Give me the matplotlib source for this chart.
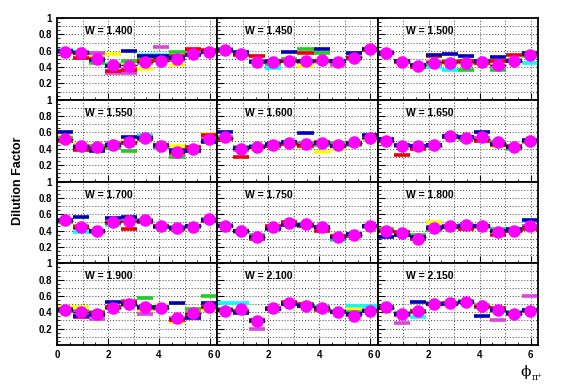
import numpy as np
import matplotlib
matplotlib.use("Agg")
import matplotlib.pyplot as plt
from matplotlib.ticker import MultipleLocator, FixedLocator

plt.rcParams['font.family'] = ['Liberation Sans', 'DejaVu Sans']

W_labels = ["1.400", "1.450", "1.500", "1.550", "1.600", "1.650",
            "1.700", "1.750", "1.800", "1.900", "2.100", "2.150"]
n_bins = 10

# magenta markers: one row per W panel, 10 phi bins
dots = [
    [0.59, 0.57, 0.50, 0.42, 0.415, 0.46, 0.475, 0.50, 0.56, 0.59],
    [0.61, 0.557, 0.467, 0.46, 0.48, 0.475, 0.49, 0.46, 0.516, 0.62],
    [0.577, 0.467, 0.415, 0.455, 0.455, 0.455, 0.46, 0.42, 0.48, 0.55],
    [0.524, 0.43, 0.418, 0.443, 0.48, 0.533, 0.43, 0.357, 0.40, 0.52],
    [0.54, 0.40, 0.42, 0.45, 0.47, 0.46, 0.47, 0.45, 0.48, 0.53],
    [0.50, 0.43, 0.44, 0.45, 0.56, 0.53, 0.54, 0.48, 0.42, 0.50],
    [0.53, 0.44, 0.39, 0.50, 0.52, 0.53, 0.45, 0.43, 0.44, 0.54],
    [0.46, 0.39, 0.32, 0.44, 0.49, 0.48, 0.44, 0.32, 0.35, 0.46],
    [0.40, 0.37, 0.30, 0.43, 0.46, 0.47, 0.46, 0.38, 0.40, 0.45],
    [0.43, 0.40, 0.385, 0.45, 0.50, 0.467, 0.45, 0.325, 0.386, 0.47],
    [0.42, 0.44, 0.29, 0.45, 0.51, 0.48, 0.45, 0.40, 0.35, 0.41],
    [0.47, 0.38, 0.41, 0.50, 0.51, 0.53, 0.48, 0.43, 0.38, 0.42],
]

red = [
    [0.59, 0.51, 0.50, 0.354, 0.366, 0.47, 0.50, 0.53, 0.62, 0.61],
    [0.60, 0.55, 0.53, 0.46, 0.47, 0.57, 0.48, 0.47, 0.51, 0.61],
    [0.57, 0.46, 0.40, 0.53, 0.46, 0.47, 0.45, 0.48, 0.55, 0.56],
    [0.50, 0.39, 0.40, 0.45, 0.47, 0.52, 0.44, 0.35, 0.42, 0.57],
    [0.52, 0.30, 0.42, 0.44, 0.46, 0.44, 0.48, 0.44, 0.46, 0.54],
    [0.49, 0.33, 0.40, 0.45, 0.54, 0.54, 0.50, 0.45, 0.44, 0.50],
    [0.52, 0.44, 0.40, 0.49, 0.42, 0.50, 0.45, 0.42, 0.46, 0.52],
    [0.45, 0.40, 0.30, 0.45, 0.50, 0.45, 0.40, 0.33, 0.33, 0.46],
    [0.40, 0.38, 0.30, 0.44, 0.45, 0.42, 0.46, 0.35, 0.40, 0.42],
    [0.44, 0.34, 0.39, 0.47, 0.52, 0.45, 0.45, 0.30, 0.37, 0.46],
    [0.43, 0.41, 0.30, 0.45, 0.52, 0.50, 0.43, 0.40, 0.37, 0.41],
    [0.46, 0.37, 0.41, 0.50, 0.51, 0.52, 0.47, 0.45, 0.38, 0.42],
]
green = [
    [0.60, 0.58, 0.447, 0.43, 0.475, 0.50, 0.51, 0.58, 0.60, 0.60],
    [0.62, 0.57, 0.48, 0.44, 0.50, 0.62, 0.57, 0.45, 0.50, 0.61],
    [0.58, 0.48, 0.43, 0.44, 0.47, 0.37, 0.45, 0.37, 0.49, 0.54],
    [0.53, 0.44, 0.44, 0.41, 0.378, 0.55, 0.42, 0.30, 0.40, 0.52],
    [0.55, 0.42, 0.44, 0.45, 0.48, 0.47, 0.45, 0.47, 0.45, 0.53],
    [0.50, 0.44, 0.44, 0.44, 0.56, 0.52, 0.53, 0.48, 0.40, 0.48],
    [0.51, 0.45, 0.38, 0.51, 0.54, 0.53, 0.46, 0.44, 0.44, 0.54],
    [0.47, 0.38, 0.34, 0.44, 0.49, 0.48, 0.42, 0.30, 0.36, 0.44],
    [0.42, 0.35, 0.34, 0.41, 0.45, 0.47, 0.44, 0.42, 0.41, 0.46],
    [0.42, 0.41, 0.40, 0.46, 0.49, 0.57, 0.46, 0.31, 0.44, 0.60],
    [0.44, 0.41, 0.30, 0.45, 0.50, 0.48, 0.46, 0.41, 0.40, 0.43],
    [0.45, 0.39, 0.41, 0.51, 0.50, 0.54, 0.49, 0.42, 0.40, 0.43],
]
blue = [
    [0.60, 0.57, 0.49, 0.41, 0.594, 0.53, 0.53, 0.516, 0.55, 0.58],
    [0.61, 0.59, 0.46, 0.47, 0.59, 0.47, 0.62, 0.47, 0.57, 0.62],
    [0.57, 0.47, 0.42, 0.55, 0.557, 0.53, 0.47, 0.52, 0.47, 0.57],
    [0.61, 0.42, 0.37, 0.45, 0.545, 0.53, 0.45, 0.39, 0.37, 0.48],
    [0.61, 0.41, 0.42, 0.46, 0.48, 0.59, 0.47, 0.43, 0.47, 0.57],
    [0.52, 0.45, 0.44, 0.45, 0.56, 0.55, 0.60, 0.46, 0.42, 0.51],
    [0.53, 0.57, 0.39, 0.55, 0.56, 0.52, 0.44, 0.43, 0.46, 0.53],
    [0.46, 0.40, 0.32, 0.42, 0.47, 0.47, 0.44, 0.32, 0.36, 0.45],
    [0.32, 0.35, 0.32, 0.43, 0.44, 0.45, 0.45, 0.40, 0.42, 0.53],
    [0.43, 0.36, 0.37, 0.52, 0.50, 0.47, 0.46, 0.51, 0.33, 0.51],
    [0.43, 0.39, 0.29, 0.44, 0.50, 0.48, 0.45, 0.40, 0.38, 0.42],
    [0.45, 0.38, 0.53, 0.50, 0.50, 0.53, 0.36, 0.43, 0.39, 0.43],
]
yellow = [
    [0.59, 0.56, 0.52, 0.557, 0.43, 0.374, 0.48, 0.43, 0.58, 0.60],
    [0.60, 0.56, 0.47, 0.45, 0.48, 0.415, 0.48, 0.45, 0.53, 0.63],
    [0.58, 0.45, 0.40, 0.47, 0.44, 0.45, 0.44, 0.42, 0.49, 0.59],
    [0.56, 0.46, 0.43, 0.43, 0.50, 0.53, 0.46, 0.44, 0.42, 0.58],
    [0.54, 0.40, 0.40, 0.44, 0.47, 0.42, 0.36, 0.40, 0.48, 0.52],
    [0.51, 0.43, 0.42, 0.43, 0.55, 0.52, 0.52, 0.44, 0.43, 0.50],
    [0.53, 0.43, 0.40, 0.50, 0.51, 0.51, 0.46, 0.42, 0.45, 0.53],
    [0.46, 0.41, 0.31, 0.43, 0.49, 0.46, 0.42, 0.34, 0.36, 0.44],
    [0.41, 0.36, 0.31, 0.51, 0.44, 0.44, 0.44, 0.40, 0.40, 0.44],
    [0.46, 0.47, 0.38, 0.45, 0.51, 0.41, 0.49, 0.285, 0.40, 0.43],
    [0.42, 0.40, 0.28, 0.43, 0.51, 0.47, 0.44, 0.41, 0.44, 0.42],
    [0.44, 0.38, 0.39, 0.49, 0.51, 0.52, 0.48, 0.44, 0.38, 0.41],
]
violet = [
    [0.60, 0.575, 0.57, 0.33, 0.325, 0.45, 0.64, 0.49, 0.57, 0.59],
    [0.61, 0.57, 0.47, 0.46, 0.48, 0.46, 0.47, 0.42, 0.52, 0.62],
    [0.58, 0.48, 0.41, 0.46, 0.46, 0.46, 0.46, 0.41, 0.48, 0.56],
    [0.51, 0.43, 0.42, 0.47, 0.47, 0.53, 0.42, 0.36, 0.41, 0.55],
    [0.53, 0.39, 0.42, 0.44, 0.47, 0.46, 0.47, 0.45, 0.46, 0.54],
    [0.50, 0.43, 0.44, 0.44, 0.55, 0.53, 0.53, 0.47, 0.42, 0.50],
    [0.52, 0.43, 0.38, 0.50, 0.52, 0.52, 0.45, 0.43, 0.45, 0.53],
    [0.46, 0.39, 0.32, 0.43, 0.48, 0.47, 0.43, 0.32, 0.35, 0.45],
    [0.40, 0.36, 0.32, 0.42, 0.44, 0.45, 0.45, 0.40, 0.40, 0.45],
    [0.43, 0.40, 0.317, 0.45, 0.54, 0.38, 0.45, 0.33, 0.39, 0.47],
    [0.43, 0.40, 0.195, 0.44, 0.50, 0.48, 0.45, 0.40, 0.38, 0.42],
    [0.45, 0.265, 0.40, 0.50, 0.50, 0.53, 0.48, 0.31, 0.38, 0.60],
]
cyan = [
    [0.61, 0.58, 0.55, 0.44, 0.45, 0.55, 0.55, 0.50, 0.57, 0.59],
    [0.60, 0.56, 0.48, 0.39, 0.47, 0.46, 0.46, 0.46, 0.55, 0.61],
    [0.58, 0.47, 0.41, 0.40, 0.366, 0.45, 0.45, 0.43, 0.47, 0.455],
    [0.54, 0.43, 0.42, 0.41, 0.48, 0.57, 0.41, 0.36, 0.40, 0.52],
    [0.53, 0.40, 0.43, 0.45, 0.47, 0.46, 0.47, 0.45, 0.48, 0.53],
    [0.50, 0.43, 0.43, 0.44, 0.55, 0.53, 0.52, 0.47, 0.42, 0.50],
    [0.52, 0.38, 0.39, 0.47, 0.52, 0.52, 0.45, 0.43, 0.45, 0.53],
    [0.46, 0.39, 0.32, 0.43, 0.48, 0.47, 0.43, 0.29, 0.35, 0.45],
    [0.40, 0.36, 0.32, 0.42, 0.44, 0.45, 0.45, 0.40, 0.40, 0.45],
    [0.44, 0.40, 0.39, 0.45, 0.49, 0.47, 0.44, 0.33, 0.37, 0.46],
    [0.51, 0.51, 0.29, 0.44, 0.50, 0.48, 0.45, 0.40, 0.475, 0.475],
    [0.46, 0.38, 0.34, 0.50, 0.50, 0.53, 0.48, 0.43, 0.38, 0.42],
]
black = [
    [0.59, 0.57, 0.50, 0.42, 0.42, 0.46, 0.48, 0.50, 0.56, 0.59],
    [0.61, 0.56, 0.47, 0.46, 0.48, 0.48, 0.49, 0.46, 0.52, 0.62],
    [0.58, 0.47, 0.42, 0.46, 0.46, 0.46, 0.46, 0.42, 0.48, 0.55],
    [0.52, 0.43, 0.42, 0.44, 0.48, 0.53, 0.43, 0.36, 0.40, 0.52],
    [0.53, 0.40, 0.42, 0.45, 0.47, 0.46, 0.47, 0.45, 0.47, 0.53],
    [0.50, 0.43, 0.43, 0.44, 0.55, 0.53, 0.52, 0.47, 0.42, 0.50],
    [0.52, 0.43, 0.39, 0.50, 0.52, 0.52, 0.45, 0.43, 0.45, 0.53],
    [0.46, 0.39, 0.32, 0.43, 0.48, 0.47, 0.43, 0.32, 0.35, 0.45],
    [0.40, 0.36, 0.32, 0.42, 0.44, 0.45, 0.45, 0.40, 0.40, 0.45],
    [0.43, 0.40, 0.385, 0.45, 0.50, 0.47, 0.45, 0.325, 0.39, 0.47],
    [0.43, 0.40, 0.29, 0.44, 0.50, 0.48, 0.45, 0.40, 0.38, 0.42],
    [0.45, 0.38, 0.40, 0.50, 0.50, 0.53, 0.48, 0.43, 0.38, 0.42],
]

series = [
    (cyan, "#00ffff", 2.6),
    (yellow, "#ffff00", 2.6),
    (green, "#22cc22", 2.6),
    (violet, "#dd44dd", 2.6),
    (red, "#ee0000", 2.6),
    (blue, "#0000bb", 2.6),
    (black, "#000000", 0.9),
]

xmax = 2 * np.pi
edges = np.linspace(0, xmax, n_bins + 1)
centers = 0.5 * (edges[:-1] + edges[1:])

fig = plt.figure(figsize=(5.67, 3.84), dpi=100)
gs = fig.add_gridspec(4, 3, left=57/567, right=538/567, top=1-18/384,
                      bottom=1-345/384, hspace=0, wspace=0)

for i in range(12):
    r, c = divmod(i, 3)
    ax = fig.add_subplot(gs[r, c])
    ax.set_xlim(0, xmax)
    ax.set_ylim(0, 1)
    for x in range(1, 7):
        ax.axvline(x, color="#444444", lw=0.7, ls=(0, (1, 2)), zorder=0)
    for y in np.arange(0.1, 1.0, 0.1):
        ax.axhline(y, color="#444444", lw=0.7, ls=(0, (1, 2)), zorder=0)
    for vals, col, lw in series:
        ax.hlines(vals[i], edges[:-1], edges[1:], colors=col, lw=lw, zorder=2)
    ax.plot(centers, dots[i], 'o', color="#ff00ff", ms=8, mec="#ff00ff", zorder=4)
    ax.text(0.175, 0.9, "W = " + W_labels[i], transform=ax.transAxes,
            fontsize=7.5, fontweight="bold", va="top", ha="left")
    for s in ax.spines.values():
        s.set_linewidth(1.3)
    ax.yaxis.set_major_locator(FixedLocator([0.2, 0.4, 0.6, 0.8, 1.0]))
    ax.yaxis.set_minor_locator(MultipleLocator(0.05))
    ax.xaxis.set_major_locator(FixedLocator([0, 2, 4, 6]))
    ax.xaxis.set_minor_locator(MultipleLocator(0.5))
    ax.tick_params(which="both", direction="in", top=False, right=False,
                   labelsize=7)
    ax.tick_params(which="major", length=5, width=0.8)
    ax.tick_params(which="minor", length=2.5, width=0.6)
    if c == 0:
        ax.set_yticklabels(["0.2", "0.4", "0.6", "0.8", "1"], fontweight="bold")
    else:
        ax.set_yticklabels([])
    if r == 3:
        ax.set_xticklabels(["0", "2", "4", "6"], fontweight="bold")
    else:
        ax.set_xticklabels([])

fig.text(0.032, 0.53, "Dilution Factor", rotation=90, ha="center", va="center",
         fontsize=9, fontweight="bold")
fig.text(0.937, 0.030, "\u03d5", ha="right", va="center", fontsize=11,
         family=["DejaVu Serif"])
fig.text(0.938, 0.018, "\u03c0\u207a", ha="left", va="center", fontsize=6.5,
         family=["DejaVu Serif"])

fig.savefig("out.png", dpi=100)
